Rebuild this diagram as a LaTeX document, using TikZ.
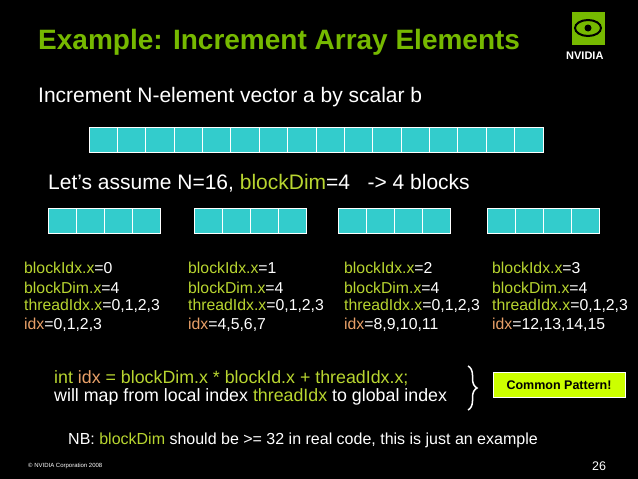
\documentclass[tikz,border=0pt]{standalone}
\usepackage{fontspec}
\setmainfont{Liberation Sans}
\usetikzlibrary{decorations.pathreplacing}
\definecolor{nvgreen}{HTML}{76B900}
\definecolor{lgreen}{HTML}{B8D530}
\definecolor{idxorange}{HTML}{E8A068}
\definecolor{cellcyan}{HTML}{33CCCC}
\definecolor{patfill}{HTML}{CCFF00}
\tikzset{
  cell/.style={draw=white,fill=cellcyan,line width=0.8pt},
  txt/.style={anchor=west,inner sep=0pt,text=white},
  lbl/.style={txt,font=\fontsize{15.8}{18}\selectfont}
}
\newcommand{\gr}[1]{\textcolor{lgreen}{#1}}
\newcommand{\og}[1]{\textcolor{idxorange}{#1}}
\begin{document}
\begin{tikzpicture}[x=1pt,y=-1pt]
  \fill[black] (0,0) rectangle (638,479);
  \useasboundingbox (0,0) rectangle (638,479);

  %title
  \node[txt,text=nvgreen,font=\fontsize{28}{32}\selectfont\bfseries] (title) at (38,42) {Example: Increment Array Elements};
  %logo
  \fill[nvgreen] (572,12) rectangle (605,45);
  \draw[black,line width=2pt] (588,28) ellipse (13 and 8);
  \fill[black] (588,28) circle (3.5);
  \node[txt,font=\fontsize{11}{12}\selectfont\bfseries] (logo) at (566,56) {NVIDIA};

  \node[txt,font=\fontsize{21}{24}\selectfont] (sub) at (38,97) {Increment N-element vector a by scalar b};

  %vector
  \foreach \i in {0,...,15}
    \draw[cell] (89+\i*28.375,127) rectangle (89+\i*28.375+28.375,152);

  \node[txt,font=\fontsize{21}{24}\selectfont] (assume) at (48,183) {Let’s assume N=16, \gr{blockDim}=4 \ \ -> 4 blocks};

  %blocks
  \foreach \b in {48,194,338,487}
    \foreach \i in {0,...,3}
      \draw[cell] (\b+\i*28,208) rectangle (\b+\i*28+28,233);

  %labels
  \foreach \x/\k/\ids in {24/0/{0,1,2,3},188/1/{4,5,6,7},344/2/{8,9,10,11},492/3/{12,13,14,15}} {
    \node[lbl] at (\x,268) {\gr{blockIdx.x}=\k};
    \node[lbl] at (\x,288) {\gr{blockDim.x}=4};
    \node[lbl] at (\x,306) {\gr{threadIdx.x}=0,1,2,3};
    \node[lbl] at (\x,325) {\og{idx}=\ids};
  }

  \node[txt,font=\fontsize{17.8}{20}\selectfont] (code) at (54,378) {\gr{int} \og{idx} \gr{= blockDim.x * blockId.x + threadIdx.x;}};
  \node[txt,font=\fontsize{17.8}{20}\selectfont] (map) at (54,397) {will map from local index \gr{threadIdx} to global index};
  \draw[white,line width=1.5pt,decorate,decoration={brace,amplitude=9pt}] (468,366) -- (468,410);
  \node[draw=white,fill=patfill,line width=0.8pt,minimum width=132pt,minimum height=25pt,font=\fontsize{12.5}{14}\selectfont\bfseries] (pattern) at (559,385) {Common Pattern!};

  \node[txt,font=\fontsize{16}{18}\selectfont] (nb) at (68,440) {NB: \gr{blockDim} should be >= 32 in real code, this is just an example};
  \node[txt,font=\fontsize{6}{7}\selectfont] (copy) at (28,466) {© NVIDIA Corporation 2008};
  \node[txt,font=\fontsize{12.5}{14}\selectfont] (page) at (592,466) {26};
\end{tikzpicture}
\end{document}
